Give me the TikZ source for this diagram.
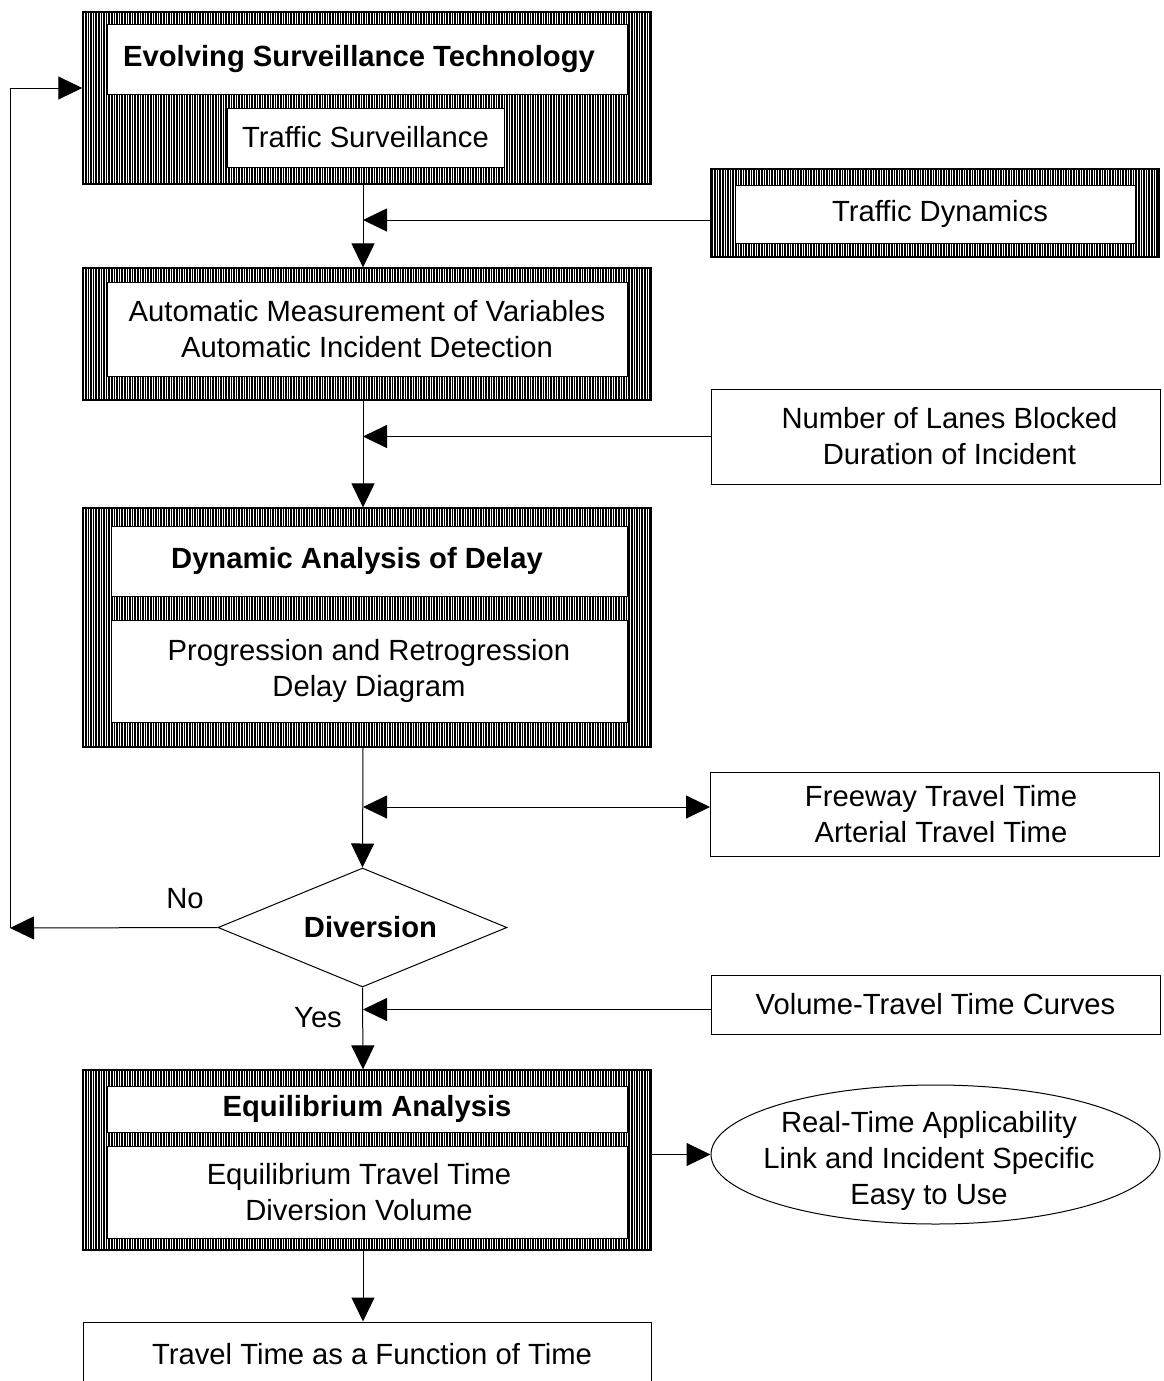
\documentclass[tikz,border=0pt]{standalone}
\usepackage{fontspec}
\setmainfont{Liberation Sans}
\usepackage{tikz}
\usetikzlibrary{arrows.meta,shapes.geometric,patterns.meta}

\begin{document}
\begin{tikzpicture}[x=0.5pt,y=-0.5pt,
  font=\fontsize{14.6pt}{18pt}\selectfont,
  frame/.style={draw,line width=0.6pt,inner sep=0pt,minimum width=284pt,
                pattern={Lines[angle=90,distance=1.3pt,line width=0.75pt]}},
  panel/.style={draw,fill=white,line width=0.5pt,inner sep=0pt,align=center,
                minimum width=260pt},
  side/.style={draw,fill=white,line width=0.5pt,inner sep=0pt,align=center,
               minimum width=224.5pt},
  arr/.style={-{Triangle[length=12pt,width=11.5pt]},line width=0.5pt},
  dbl/.style={{Triangle[length=12pt,width=11.5pt]}-{Triangle[length=12pt,width=11.5pt]},line width=0.5pt}]
  \useasboundingbox (0,0) rectangle (1163,1381);
  \coordinate (spine) at (363,0);
  \coordinate (noend) at (10,928);
  \coordinate (back) at (10,88);

  % surveillance
  \node[frame,minimum height=86pt] (surv) at (367,98) {};
  \node[panel,minimum height=35pt] (survtitle) at (367,59) {\textbf{Evolving Surveillance Technology}\hspace*{8pt}};
  \node[panel,minimum width=138.5pt,minimum height=29.5pt] (survsub) at (365.5,137.5) {Traffic Surveillance};

  \node[frame,minimum width=224pt,minimum height=44pt] (dyn) at (935,213) {};
  \node[panel,minimum width=200pt,minimum height=29pt] (dyntext) at (935,214) {\hspace*{5pt}Traffic Dynamics};

  % measurement
  \node[frame,minimum height=66pt] (meas) at (367,334) {};
  \node[panel,minimum height=47pt] (meastext) at (367,329) {Automatic Measurement of Variables\\Automatic Incident Detection};

  \node[side,minimum height=47.5pt] (lanes) at (935.5,436.5) {\hspace*{14pt}Number of Lanes Blocked\\\hspace*{14pt}Duration of Incident};

  % delay
  \node[frame,minimum height=119.5pt] (delay) at (367,627.5) {};
  \node[panel,minimum width=258pt,minimum height=35pt] (delaytitle) at (369,561) {\textbf{Dynamic Analysis of Delay}\hspace*{12pt}};
  \node[panel,minimum width=258pt,minimum height=51pt] (delaysub) at (369,671) {Progression and Retrogression\\Delay Diagram};

  \node[side,minimum height=42pt] (ttime) at (935,814) {\hspace*{6pt}Freeway Travel Time\\\hspace*{6pt}Arterial Travel Time};

  % decision
  \node[draw,diamond,aspect=2.4,inner sep=0pt,line width=0.5pt,
        minimum width=144.5pt,minimum height=59.5pt] (div) at (362.5,927.5) {\hspace*{8pt}\textbf{Diversion}};
  \node (no) at (185,899) {No};
  \node (yes) at (318,1018) {Yes};

  \node[side,minimum height=29.5pt] (curves) at (935.5,1004.5) {Volume-Travel Time Curves};

  % equilibrium
  \node[frame,minimum height=90pt] (equi) at (367,1160) {};
  \node[panel,minimum height=23pt] (equititle) at (367,1109) {\textbf{Equilibrium Analysis}};
  \node[panel,minimum height=46pt] (equisub) at (367,1192) {Equilibrium Travel Time\hspace*{8pt}\\Diversion Volume\hspace*{8pt}};

  \node[draw,ellipse,line width=0.5pt,minimum width=224.5pt,minimum height=69.5pt] (props) at (935.5,1154.5) {};
  \node[align=center] (propstext) at (929,1161) {Real-Time Applicability\\Link and Incident Specific\\Easy to Use};

  \node[panel,minimum width=284pt,minimum height=32pt] (out) at (367,1354) {\hspace*{5pt}Travel Time as a Function of Time};

  % connectors
  \draw[arr] (surv.south -| spine) -- (meas.north -| spine);
  \draw[arr] ([yshift=-3.5pt]dyn.west) -- ([yshift=-3.5pt]dyn.west -| spine);
  \draw[arr] (meas.south -| spine) -- (delay.north -| spine);
  \draw[arr] (lanes.west) -- (lanes.west -| spine);
  \draw[arr] (delay.south -| spine) -- (div.north);
  \draw[dbl] ([yshift=3.5pt]ttime.west -| spine) -- ([yshift=3.5pt]ttime.west);
  \draw[arr] (div.west) -- (noend);
  \draw[arr] (noend) -- (back) -- (back -| surv.west);
  \draw[arr] (div.south) -- (equi.north -| spine);
  \draw[arr] ([yshift=-2.5pt]curves.west) -- ([yshift=-2.5pt]curves.west -| spine);
  \draw[arr] (equi.east |- props.west) -- (props.west);
  \draw[arr] (equi.south -| spine) -- (out.north -| spine);
\end{tikzpicture}
\end{document}
